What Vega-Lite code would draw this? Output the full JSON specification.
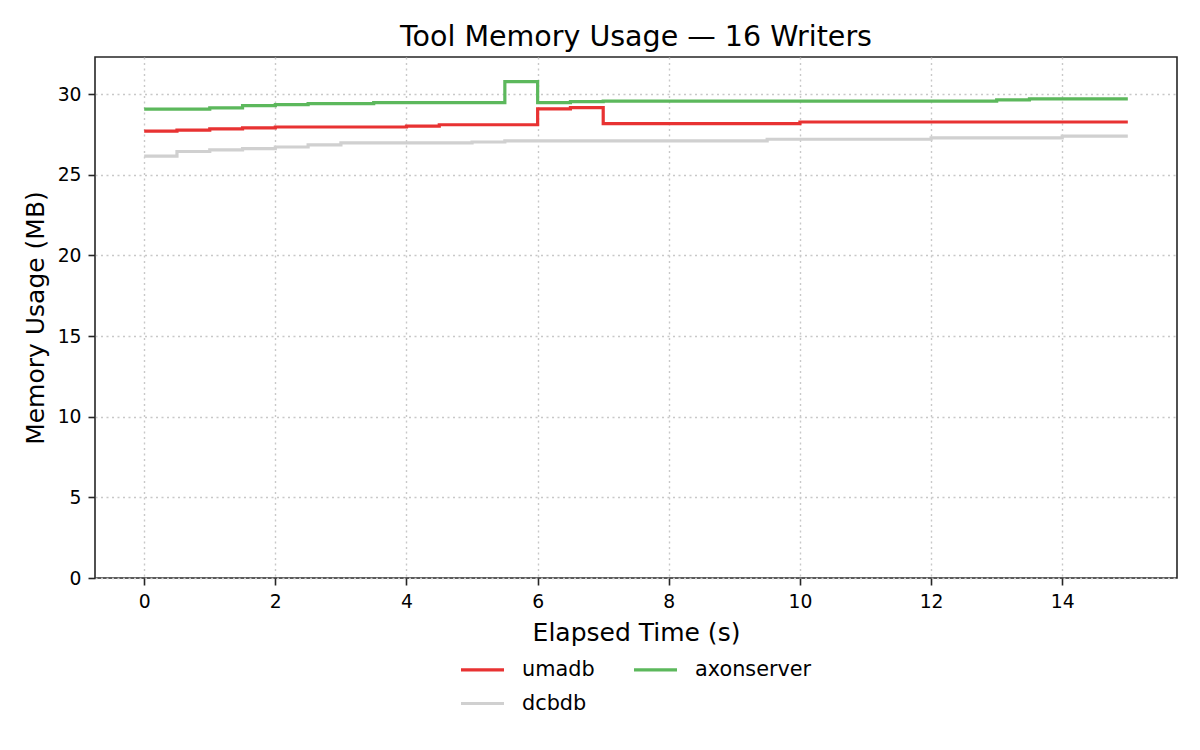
{
  "$schema": "https://vega.github.io/schema/vega-lite/v6.json",
  "width": 1082,
  "height": 521,
  "autosize": {"type": "none"},
  "padding": {"left": 95, "top": 57, "right": 23, "bottom": 172},
  "background": "white",
  "config": {
    "font": "DejaVu Sans",
    "view": {"stroke": "#262626", "strokeWidth": 1.6},
    "axis": {
      "domain": false,
      "tickColor": "#262626",
      "tickSize": 7,
      "tickWidth": 1.6,
      "labelFontSize": 18.75,
      "labelColor": "black",
      "titleFontSize": 25,
      "titleFontWeight": "normal",
      "titleColor": "black",
      "gridColor": "#c8c8c8",
      "gridDash": [2, 3.5],
      "gridWidth": 1.4,
      "labelPadding": 7
    },
    "title": {"fontSize": 28.5, "fontWeight": "normal", "color": "black", "offset": 6}
  },
  "title": {"text": "Tool Memory Usage — 16 Writers", "anchor": "middle"},
  "data": {
    "values": [
      {"t": 0, "s": "umadb", "v": 27.71}, {"t": 0.5, "s": "umadb", "v": 27.77}, {"t": 1, "s": "umadb", "v": 27.84}, {"t": 1.5, "s": "umadb", "v": 27.9},
      {"t": 2, "s": "umadb", "v": 27.96}, {"t": 2.5, "s": "umadb", "v": 27.96}, {"t": 3, "s": "umadb", "v": 27.96}, {"t": 3.5, "s": "umadb", "v": 27.96},
      {"t": 4, "s": "umadb", "v": 28.02}, {"t": 4.5, "s": "umadb", "v": 28.1}, {"t": 5, "s": "umadb", "v": 28.1}, {"t": 5.5, "s": "umadb", "v": 28.1},
      {"t": 6, "s": "umadb", "v": 29.08}, {"t": 6.5, "s": "umadb", "v": 29.16}, {"t": 7, "s": "umadb", "v": 28.17}, {"t": 7.5, "s": "umadb", "v": 28.17},
      {"t": 8, "s": "umadb", "v": 28.17}, {"t": 8.5, "s": "umadb", "v": 28.17}, {"t": 9, "s": "umadb", "v": 28.17}, {"t": 9.5, "s": "umadb", "v": 28.17},
      {"t": 10, "s": "umadb", "v": 28.27}, {"t": 10.5, "s": "umadb", "v": 28.27}, {"t": 11, "s": "umadb", "v": 28.27}, {"t": 11.5, "s": "umadb", "v": 28.27},
      {"t": 12, "s": "umadb", "v": 28.27}, {"t": 12.5, "s": "umadb", "v": 28.27}, {"t": 13, "s": "umadb", "v": 28.27}, {"t": 13.5, "s": "umadb", "v": 28.27},
      {"t": 14, "s": "umadb", "v": 28.27}, {"t": 14.5, "s": "umadb", "v": 28.27}, {"t": 15, "s": "umadb", "v": 28.27},
      {"t": 0, "s": "dcbdb", "v": 26.15}, {"t": 0.5, "s": "dcbdb", "v": 26.44}, {"t": 1, "s": "dcbdb", "v": 26.54}, {"t": 1.5, "s": "dcbdb", "v": 26.62},
      {"t": 2, "s": "dcbdb", "v": 26.72}, {"t": 2.5, "s": "dcbdb", "v": 26.85}, {"t": 3, "s": "dcbdb", "v": 26.97}, {"t": 3.5, "s": "dcbdb", "v": 26.97},
      {"t": 4, "s": "dcbdb", "v": 26.97}, {"t": 4.5, "s": "dcbdb", "v": 26.97}, {"t": 5, "s": "dcbdb", "v": 27.03}, {"t": 5.5, "s": "dcbdb", "v": 27.1},
      {"t": 6, "s": "dcbdb", "v": 27.1}, {"t": 6.5, "s": "dcbdb", "v": 27.1}, {"t": 7, "s": "dcbdb", "v": 27.1}, {"t": 7.5, "s": "dcbdb", "v": 27.1},
      {"t": 8, "s": "dcbdb", "v": 27.1}, {"t": 8.5, "s": "dcbdb", "v": 27.1}, {"t": 9, "s": "dcbdb", "v": 27.1}, {"t": 9.5, "s": "dcbdb", "v": 27.2},
      {"t": 10, "s": "dcbdb", "v": 27.2}, {"t": 10.5, "s": "dcbdb", "v": 27.2}, {"t": 11, "s": "dcbdb", "v": 27.2}, {"t": 11.5, "s": "dcbdb", "v": 27.2},
      {"t": 12, "s": "dcbdb", "v": 27.28}, {"t": 12.5, "s": "dcbdb", "v": 27.28}, {"t": 13, "s": "dcbdb", "v": 27.28}, {"t": 13.5, "s": "dcbdb", "v": 27.28},
      {"t": 14, "s": "dcbdb", "v": 27.4}, {"t": 14.5, "s": "dcbdb", "v": 27.4}, {"t": 15, "s": "dcbdb", "v": 27.4},
      {"t": 0, "s": "axonserver", "v": 29.07}, {"t": 0.5, "s": "axonserver", "v": 29.07}, {"t": 1, "s": "axonserver", "v": 29.14}, {"t": 1.5, "s": "axonserver", "v": 29.28},
      {"t": 2, "s": "axonserver", "v": 29.35}, {"t": 2.5, "s": "axonserver", "v": 29.41}, {"t": 3, "s": "axonserver", "v": 29.41}, {"t": 3.5, "s": "axonserver", "v": 29.47},
      {"t": 4, "s": "axonserver", "v": 29.47}, {"t": 4.5, "s": "axonserver", "v": 29.47}, {"t": 5, "s": "axonserver", "v": 29.47}, {"t": 5.5, "s": "axonserver", "v": 30.77},
      {"t": 6, "s": "axonserver", "v": 29.47}, {"t": 6.5, "s": "axonserver", "v": 29.53}, {"t": 7, "s": "axonserver", "v": 29.57}, {"t": 7.5, "s": "axonserver", "v": 29.57},
      {"t": 8, "s": "axonserver", "v": 29.57}, {"t": 8.5, "s": "axonserver", "v": 29.57}, {"t": 9, "s": "axonserver", "v": 29.57}, {"t": 9.5, "s": "axonserver", "v": 29.57},
      {"t": 10, "s": "axonserver", "v": 29.57}, {"t": 10.5, "s": "axonserver", "v": 29.57}, {"t": 11, "s": "axonserver", "v": 29.57}, {"t": 11.5, "s": "axonserver", "v": 29.57},
      {"t": 12, "s": "axonserver", "v": 29.57}, {"t": 12.5, "s": "axonserver", "v": 29.57}, {"t": 13, "s": "axonserver", "v": 29.64}, {"t": 13.5, "s": "axonserver", "v": 29.7},
      {"t": 14, "s": "axonserver", "v": 29.7}, {"t": 14.5, "s": "axonserver", "v": 29.7}, {"t": 15, "s": "axonserver", "v": 29.7}
    ]
  },
  "mark": {"type": "line", "interpolate": "step-after", "strokeWidth": 3.2, "clip": true},
  "encoding": {
    "x": {
      "field": "t", "type": "quantitative",
      "scale": {"domain": [-0.75, 15.75], "nice": false, "zero": false},
      "axis": {"values": [0, 2, 4, 6, 8, 10, 12, 14], "title": "Elapsed Time (s)", "titlePadding": 10}
    },
    "y": {
      "field": "v", "type": "quantitative",
      "scale": {"domain": [0, 32.3], "nice": false},
      "axis": {"values": [0, 5, 10, 15, 20, 25, 30], "title": "Memory Usage (MB)", "titlePadding": 9}
    },
    "color": {
      "field": "s", "type": "nominal",
      "scale": {"domain": ["umadb", "dcbdb", "axonserver"], "range": ["#e83232", "#d0d0d0", "#5cb85c"]},
      "legend": {
        "title": null,
        "orient": "none",
        "legendX": 364,
        "legendY": 589,
        "columns": 2,
        "symbolType": "stroke",
        "symbolSize": 1850,
        "symbolStrokeWidth": 3.2,
        "labelFontSize": 20.8,
        "labelColor": "black",
        "labelOffset": 16,
        "columnPadding": 32,
        "rowPadding": -2
      }
    }
  }
}
